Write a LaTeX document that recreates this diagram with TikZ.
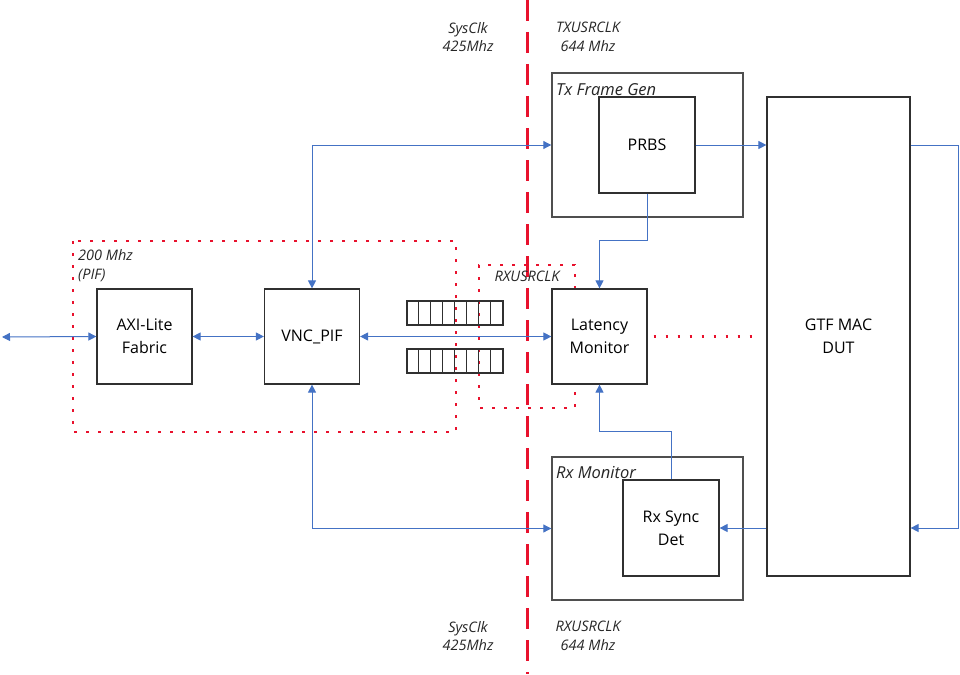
\documentclass[tikz,border=0pt]{standalone}
\usepackage{fontspec}
\setmainfont{Open Sans}
\usetikzlibrary{arrows.meta}
\definecolor{conn}{HTML}{4472C4}
\definecolor{clkred}{HTML}{E8112D}
\definecolor{boxline}{HTML}{303030}
\tikzset{
  blk/.style={draw=boxline, line width=1.2pt, fill=white, minimum width=95pt, minimum height=95pt, inner sep=0pt, align=center, font=\fontsize{16}{23}\selectfont},
  outerblk/.style={draw=boxline!85, line width=1.4pt, fill=white, inner sep=0pt},
  conline/.style={draw=conn, line width=1pt},
  tip/.style={-{Triangle[length=8pt,width=8pt]}},
  bitip/.style={{Triangle[length=8pt,width=8pt]}-{Triangle[length=8pt,width=8pt]}},
  clkdash/.style={draw=clkred, line width=3pt, dash pattern=on 21pt off 11pt},
  clkdot/.style={draw=clkred, line width=2.6pt, dash pattern=on 2.6pt off 9.4pt},
  lbl/.style={font=\fontsize{14.5}{18.5}\selectfont\itshape, text=black!85, align=center, inner sep=0pt},
  boxlbl/.style={font=\fontsize{16.5}{19}\selectfont\itshape, text=black!85, inner sep=0pt, anchor=west},
  fifo/.style={draw=boxline, line width=1.1pt, minimum width=96pt, minimum height=24pt, inner sep=0pt}
}
\begin{document}
\begin{tikzpicture}[x=1pt,y=-1pt]
\useasboundingbox (0,0) rectangle (960,674);
% clock boundary
\draw[clkdash] (527,0) -- (527,674);
% dotted clock regions
\draw[clkdot] (73,241) rectangle (456,432);
\draw[clkdot] (575,289) -- (575,265) -- (479,265) -- (479,408) -- (575,408) -- (575,384);
% outer boxes
\node[outerblk, minimum width=191pt, minimum height=144pt] (tx) at (647.5,145) {};
\node[outerblk, minimum width=191pt, minimum height=143pt] (rxm) at (647.5,528.5) {};
\node[boxlbl] (txl) at (556,90) {Tx Frame Gen};
\node[boxlbl] (rxml) at (556,473) {Rx Monitor};
% blocks
\node[blk, minimum width=96pt, minimum height=96pt] (prbs) at (647,145) {PRBS};
\node[blk, minimum width=96pt, minimum height=96pt] (rxs) at (671,528) {Rx Sync\\Det};
\node[blk, minimum width=143pt, minimum height=479pt] (gtf) at (838.5,336.5) {GTF MAC\\DUT};
\node[blk] (lat) at (599.5,336.5) {Latency\\Monitor};
\node[blk] (axi) at (144.5,336.5) {AXI-Lite\\Fabric};
\node[blk] (vnc) at (312,336.5) {VNC\_PIF};
% fifos
\node[fifo] (f1) at (455,313) {};
\node[fifo] (f2) at (455,361) {};
\foreach \i in {1,...,7}{
  \draw[boxline, line width=1.1pt] ([xshift=12*\i pt]f1.north west) -- ([xshift=12*\i pt]f1.south west);
  \draw[boxline, line width=1.1pt] ([xshift=12*\i pt]f2.north west) -- ([xshift=12*\i pt]f2.south west);
}
% dotted link latency - gtf
\draw[clkdot] ([xshift=6pt]lat.east) -- ([xshift=-6pt]gtf.west |- lat.east);
% labels
\node[lbl] (t1) at (468,37) {SysClk\\425Mhz};
\node[lbl] (t2) at (588,37) {TXUSRCLK\\644 Mhz};
\node[lbl] (b1) at (468,636) {SysClk\\425Mhz};
\node[lbl] (b2) at (588,636) {RXUSRCLK\\644 Mhz};
\node[lbl, align=left, anchor=west] (pif) at (78,265.5) {200 Mhz\\(PIF)};
\node[lbl] (rxclk) at (527,276) {RXUSRCLK};
% connectors
\coordinate (ext) at (2,337);
\draw[conline, bitip] (ext) -- (axi.west);
\draw[conline, bitip] (axi.east) -- (vnc.west);
\draw[conline, bitip] (vnc.east) -- (lat.west);
\draw[conline, bitip] (vnc.north) |- (tx.west);
\draw[conline, bitip] (vnc.south) |- (rxm.west);
\draw[conline, tip] (prbs.east) -- (gtf.west |- prbs.east);
\coordinate (loopa) at (958,145);
\coordinate (loopb) at (958,528);
\draw[conline, tip] (gtf.east |- loopa) -- (loopa) -- (loopb) -- (gtf.east |- loopb);
\draw[conline, tip] (gtf.west |- rxs.east) -- (rxs.east);
\draw[conline, tip] (prbs.south) -- ++(0,47) -| (lat.north);
\draw[conline, tip] (rxs.north) -- ++(0,-48) -| (lat.south);
\end{tikzpicture}
\end{document}
